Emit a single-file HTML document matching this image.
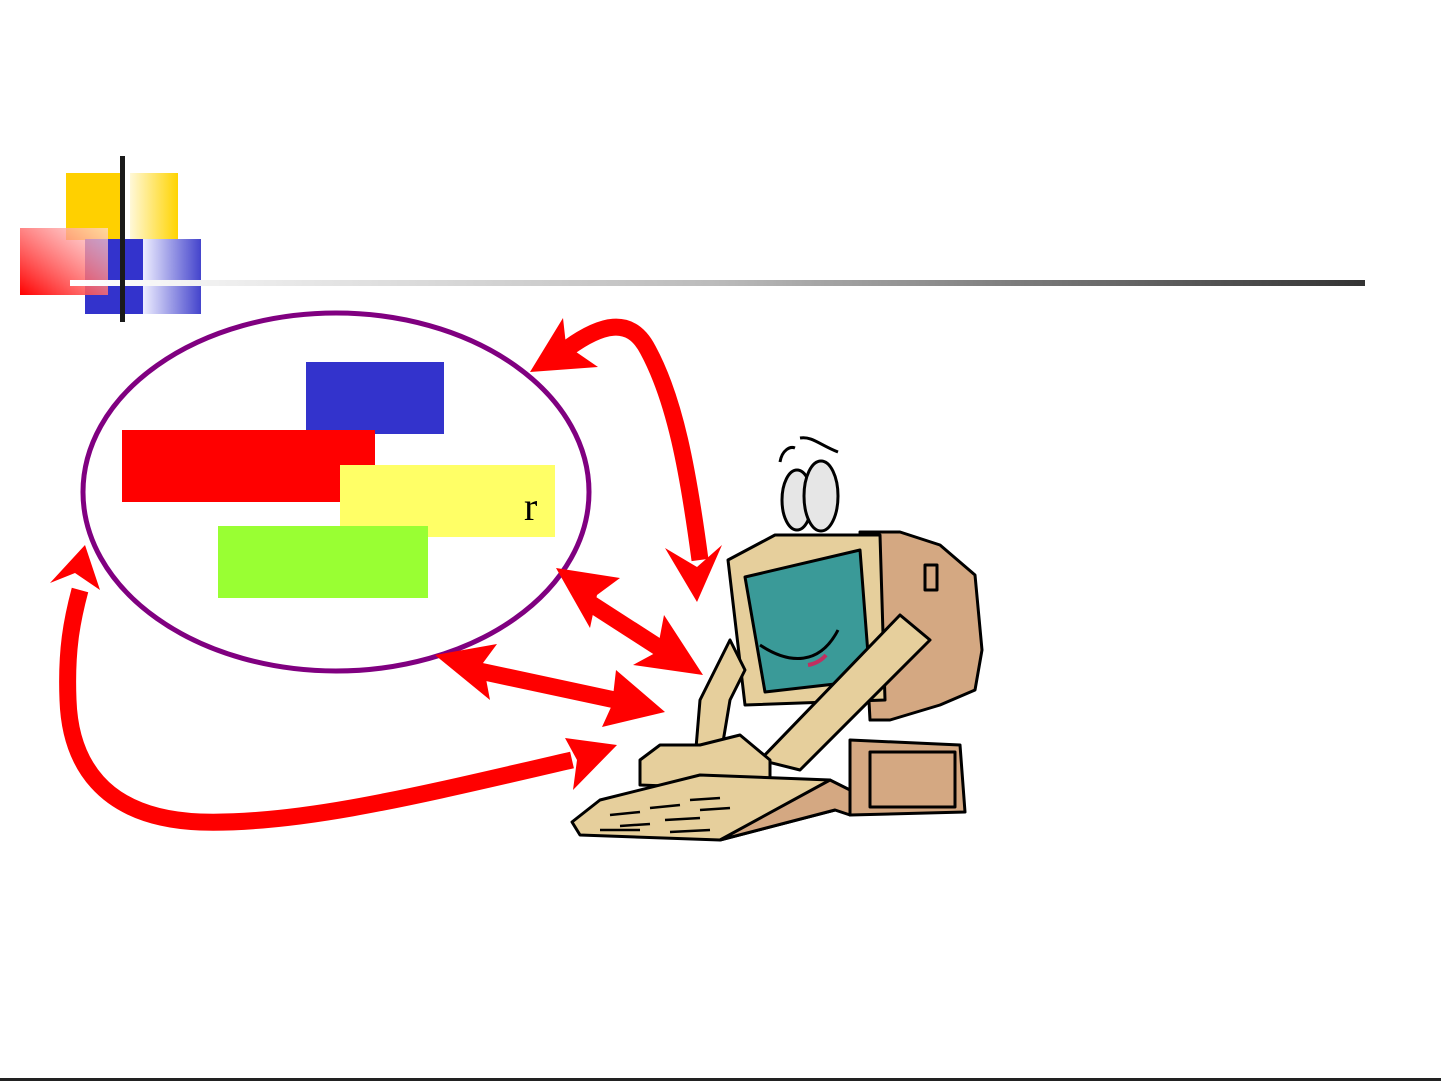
<!DOCTYPE html>
<html><head><style>body{margin:0;background:#fff}svg{display:block}</style></head><body>
<svg width="1441" height="1081" viewBox="0 0 1441 1081" xmlns="http://www.w3.org/2000/svg">
<defs>
<linearGradient id="gl" x1="0" x2="1"><stop offset="0" stop-color="#fff"/><stop offset="0.5" stop-color="#bbb"/><stop offset="1" stop-color="#333"/></linearGradient>
<linearGradient id="gy" x1="0" x2="1"><stop offset="0" stop-color="#fff8d8"/><stop offset="1" stop-color="#ffd400"/></linearGradient>
<linearGradient id="gb" x1="0" x2="1"><stop offset="0" stop-color="#eef"/><stop offset="1" stop-color="#4444cc"/></linearGradient>
<linearGradient id="gr" x1="0" y1="1" x2="1" y2="0"><stop offset="0" stop-color="#f00"/><stop offset="1" stop-color="#fdd" stop-opacity="0.7"/></linearGradient>
</defs>
<rect x="66" y="173" width="58" height="67" fill="#ffd000"/>
<rect x="130" y="173" width="48" height="67" fill="url(#gy)"/>
<rect x="85" y="239" width="58" height="75" fill="#3333cc"/>
<rect x="143" y="239" width="58" height="75" fill="url(#gb)"/>
<rect x="20" y="228" width="88" height="67" fill="url(#gr)"/>
<rect x="70" y="280" width="1295" height="6" fill="url(#gl)"/>
<rect x="120" y="156" width="5" height="166" fill="#1a1a1a"/>
<rect x="306" y="362" width="138" height="72" fill="#3333cc"/>
<rect x="122" y="430" width="253" height="72" fill="#ff0000"/>
<rect x="340" y="465" width="215" height="72" fill="#ffff66"/>
<rect x="218" y="526" width="210" height="72" fill="#99ff33"/>
<text x="524" y="520" font-family="Liberation Serif, serif" font-size="40" fill="#000">r</text>
<ellipse cx="336" cy="492" rx="253" ry="179" fill="none" stroke="#800080" stroke-width="5"/>
<g fill="none" stroke="#ff0000" stroke-width="17" stroke-linecap="butt">
<path d="M568 348 C600 325 630 315 648 350 C675 400 688 470 700 560"/>
<path d="M582 598 L672 656"/>
<path d="M475 670 L615 700"/>
<path d="M572 760 C420 795 300 825 200 822 C100 818 70 760 68 700 C66 650 72 620 80 590"/>
</g>
<g fill="#ff0000">
<polygon points="530,372 563,318 566,345 598,367"/>
<polygon points="697,602 665,548 697,567 722,545"/>
<polygon points="556,568 620,578 597,595 590,628"/>
<polygon points="703,675 633,665 657,652 664,615"/>
<polygon points="435,655 497,644 483,663 490,700"/>
<polygon points="665,712 602,727 612,705 616,670"/>
<polygon points="617,745 565,738 577,760 573,790"/>
<polygon points="85,545 50,583 75,573 100,590"/>
</g>
<g stroke="#000" stroke-width="3" stroke-linejoin="round">
<path d="M860 532 L900 532 L940 545 L975 575 L982 650 L975 690 L940 705 L890 720 L870 720 Z" fill="#d4a882"/>
<path d="M850 740 L960 745 L965 812 L850 815 Z" fill="#d4a882"/>
<rect x="870" y="752" width="85" height="55" fill="none"/>
<rect x="925" y="565" width="12" height="25" fill="none"/>
<path d="M728 560 L775 535 L880 535 L885 700 L745 705 Z" fill="#e6cf9c"/>
<path d="M745 577 L860 550 L870 680 L765 692 Z" fill="#3a9a98"/>
<path d="M760 645 C790 665 820 665 838 630" fill="none"/>
<path d="M808 665 C815 664 822 660 826 655" fill="none" stroke="#c03060" stroke-width="4"/>
<ellipse cx="797" cy="500" rx="15" ry="30" fill="#e6e6e6"/>
<ellipse cx="821" cy="496" rx="17" ry="35" fill="#e6e6e6"/>
<path d="M780 462 C782 450 790 446 795 448 M800 438 C812 436 820 445 838 452" fill="none"/>
<path d="M730 640 L700 700 L695 760 L720 760 L730 700 L745 670 Z" fill="#e6cf9c"/>
<path d="M900 615 L930 640 L800 770 L760 760 Z" fill="#e6cf9c"/>
<path d="M640 760 L660 745 L700 745 L740 735 L770 760 L770 790 L640 785 Z" fill="#e6cf9c"/>
<path d="M572 822 L600 800 L700 775 L830 780 L835 810 L720 840 L580 835 Z" fill="#e6cf9c"/>
<path d="M720 840 L835 810 L850 815 L850 790 L830 780 Z" fill="#d4a882"/>
<g fill="none" stroke-width="2.5"><path d="M610 815 L640 812 M650 808 L680 805 M690 800 L720 798 M620 826 L650 824 M665 820 L700 818 M600 830 L640 830 M670 832 L710 830 M700 810 L730 808"/></g>
</g>
<rect x="0" y="1078" width="1441" height="3" fill="#222"/>
</svg>
</body></html>
